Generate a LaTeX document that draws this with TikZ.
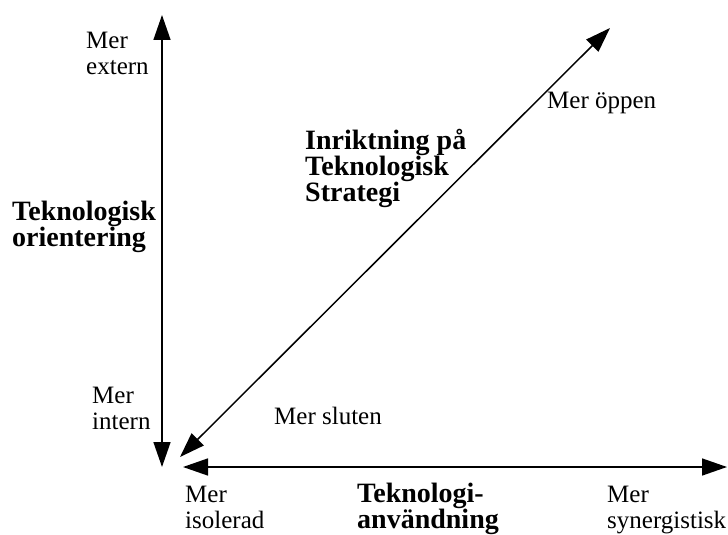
\documentclass[tikz,border=0pt]{standalone}
\usepackage{fontspec}
\setmainfont{Liberation Serif}
\usetikzlibrary{arrows.meta}
\tikzstyle{txt} = [anchor=north west, inner sep=0pt, align=left, font=\fontsize{25}{26}\selectfont]
\tikzstyle{heading} = [anchor=north west, inner sep=0pt, align=left, font=\fontsize{28}{26}\selectfont\bfseries]
\tikzstyle{arrow} = [line width=1.5pt, {Triangle[length=25pt,width=17pt]}-{Triangle[length=25pt,width=17pt]}]

\begin{document}
\begin{tikzpicture}[x=1pt,y=-1pt]
\useasboundingbox (0,0) rectangle (728,535);

% axis end points
\coordinate (ytop) at (162,15);
\coordinate (ybot) at (162,467);
\coordinate (xleft) at (183,467);
\coordinate (xright) at (727,467);
\coordinate (dlow) at (180,457);
\coordinate (dhigh) at (610,28);

\draw [arrow] (ybot) -- (ytop);
\draw [arrow] (xleft) -- (xright);
\draw [arrow] (dlow) -- (dhigh);

\node (ext) [txt] at (86,32) {Mer\\extern};
\node (orient) [heading] at (12,201) {Teknologisk\\orientering};
\node (int) [txt] at (92,387) {Mer\\intern};
\node (strat) [heading] at (305,129) {Inriktning på\\Teknologisk\\Strategi};
\node (open) [txt] at (547,92) {Mer öppen};
\node (closed) [txt] at (274,407) {Mer sluten};
\node (iso) [txt] at (185,486) {Mer\\isolerad};
\node (usage) [heading] at (357,483) {Teknologi-\\användning};
\node (syn) [txt] at (607,486) {Mer\\synergistisk};

\end{tikzpicture}
\end{document}
